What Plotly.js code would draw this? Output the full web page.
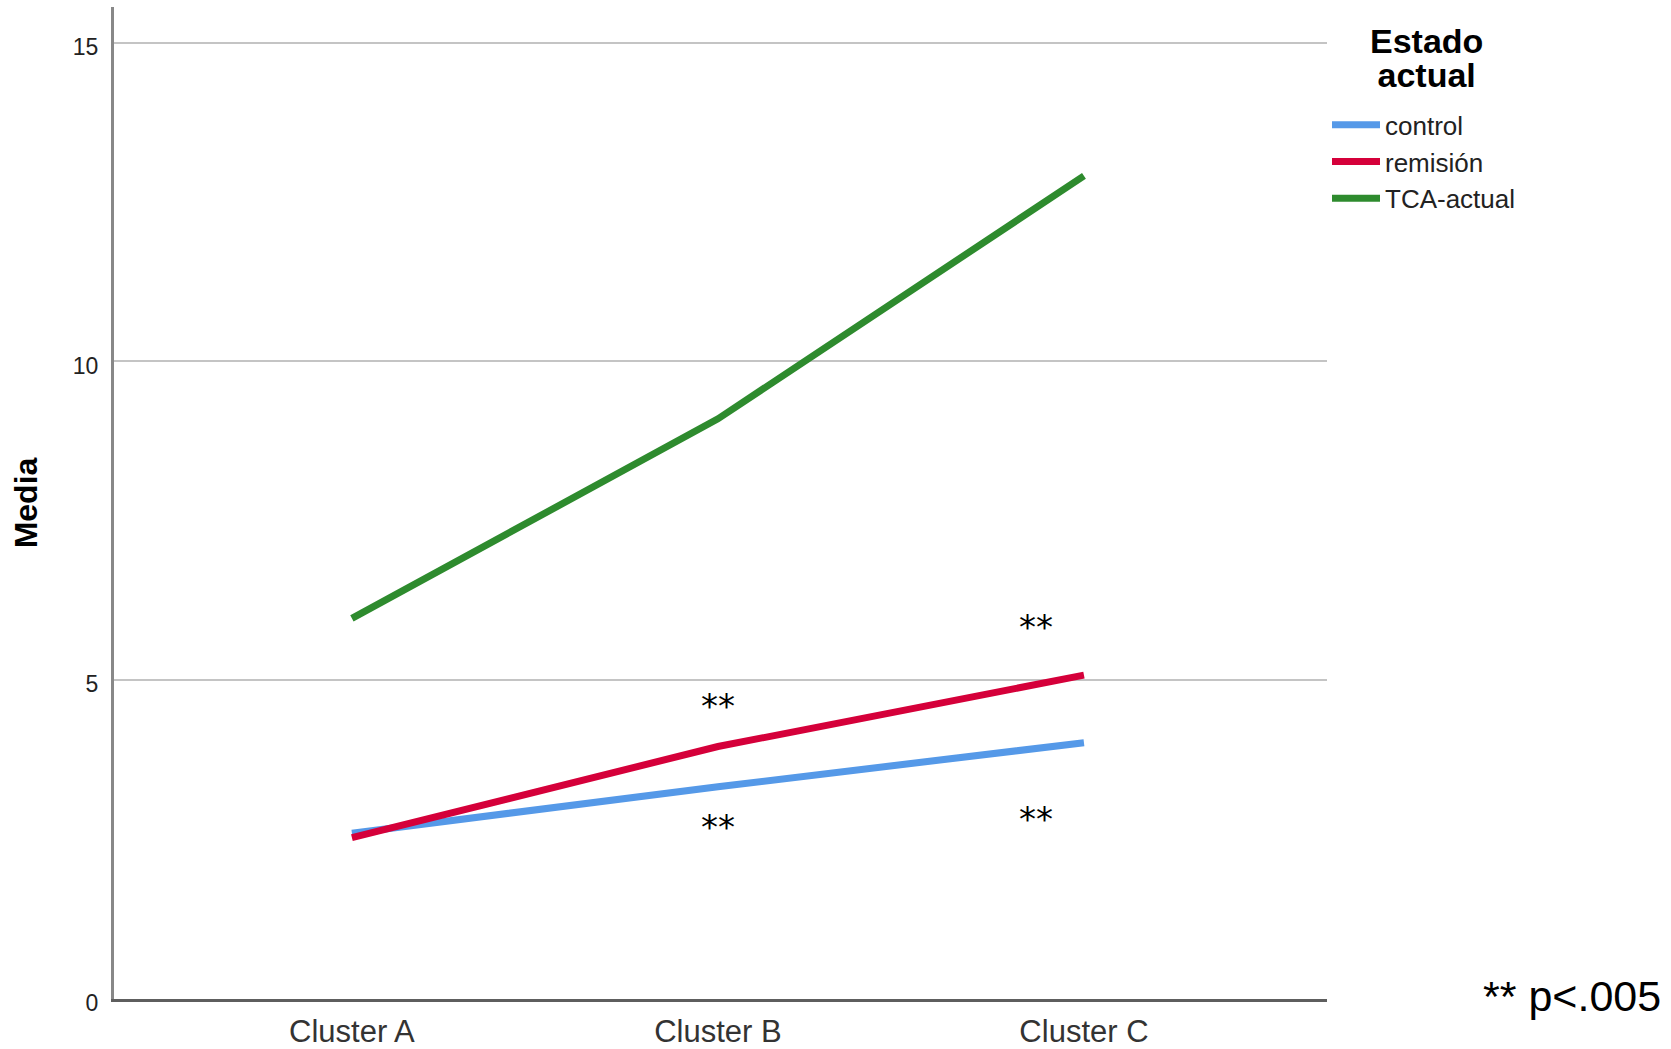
<!DOCTYPE html>
<html>
<head>
<meta charset="utf-8">
<script src="https://cdn.plot.ly/plotly-3.0.1.min.js"></script>
<style>html,body{margin:0;padding:0;background:#fff;}#chart{width:1671px;height:1049px;}</style>
</head>
<body>
<div id="chart"></div>
<script>
const categories = ["Cluster A", "Cluster B", "Cluster C"];
const seriesNames = ["control", "remisión", "TCA-actual"];
const controlValues = [2.60, 3.33, 4.02];
const remisionValues = [2.53, 3.96, 5.08];
const tcaValues = [5.97, 9.10, 12.91];
const seriesColors = ["#5599E8", "#D5003A", "#2E8B2E"];
const yTicks = [0, 5, 10, 15];
const legendTitleLines = ["Estado", "actual"];
const yTitle = "Media";
const sigMark = "**";
const sigNote = "** p<.005";

const allValues = [controlValues, remisionValues, tcaValues];
const traces = allValues.map((vals, i) => ({
  type: "scatter",
  mode: "lines",
  x: categories,
  y: vals,
  name: seriesNames[i],
  line: {color: seriesColors[i], width: 7},
  hoverinfo: "skip"
}));

const starFont = {family: "DejaVu Sans, Arial, sans-serif", size: 34, color: "#000"};
const annotations = [
  {x: 1, y: 4.6, text: sigMark},
  {x: 1, y: 2.7, text: sigMark},
  {x: 1.868, y: 5.83, text: sigMark},
  {x: 1.868, y: 2.83, text: sigMark}
].map(a => Object.assign({xref: "x", yref: "y", showarrow: false, font: starFont, xanchor: "center", yanchor: "middle"}, a));
annotations.push({
  xref: "paper", yref: "y", x: 1.277, y: 0, xanchor: "right", yanchor: "middle", yshift: 3,
  text: sigNote, showarrow: false,
  font: {family: "Arial, sans-serif", size: 43, color: "#000"}
});
annotations.push({
  xref: "paper", yref: "paper", x: (1426 - 114) / 1213, y: 1 - (58 - 7) / 992,
  xanchor: "center", yanchor: "middle", align: "center",
  text: legendTitleLines.map(l => '<span style="font-size:34px"><b>' + l + '</b></span>').join("<br>"),
  showarrow: false,
  font: {family: "Arial, sans-serif", size: 26, color: "#000"}
});

const layout = {
  width: 1671, height: 1049,
  paper_bgcolor: "#fff", plot_bgcolor: "#fff",
  margin: {l: 114, r: 344, t: 7, b: 50, pad: 0},
  showlegend: true,
  font: {family: "Arial, Liberation Sans, sans-serif", color: "#222"},
  xaxis: {
    type: "category",
    range: [-0.650, 2.664],
    showgrid: false, zeroline: false,
    showline: true, linecolor: "#5e5e5e", linewidth: 3,
    ticks: "", ticklabelstandoff: 3,
    tickfont: {family: "Arial, sans-serif", size: 31, color: "#333"}
  },
  yaxis: {
    range: [0, 15.56],
    tickvals: yTicks,
    showgrid: true, gridcolor: "#c4c4c4", gridwidth: 2,
    zeroline: false,
    showline: true, linecolor: "#888888", linewidth: 3,
    ticks: "", ticklabelstandoff: 8, ticklabelshift: 4,
    tickfont: {family: "Arial, sans-serif", size: 23, color: "#222"},
    title: {text: "<b>" + yTitle + "</b>", font: {family: "Arial, sans-serif", size: 32, color: "#000"}, standoff: 26}
  },
  legend: {
    x: 1.0, xanchor: "left", y: 0.905, yanchor: "top",
    bgcolor: "rgba(0,0,0,0)",
    font: {family: "Arial, sans-serif", size: 26, color: "#222"},
    itemwidth: 48
  },
  annotations: annotations
};

Plotly.newPlot("chart", traces, layout, {displayModeBar: false, staticPlot: true});
</script>
</body>
</html>
